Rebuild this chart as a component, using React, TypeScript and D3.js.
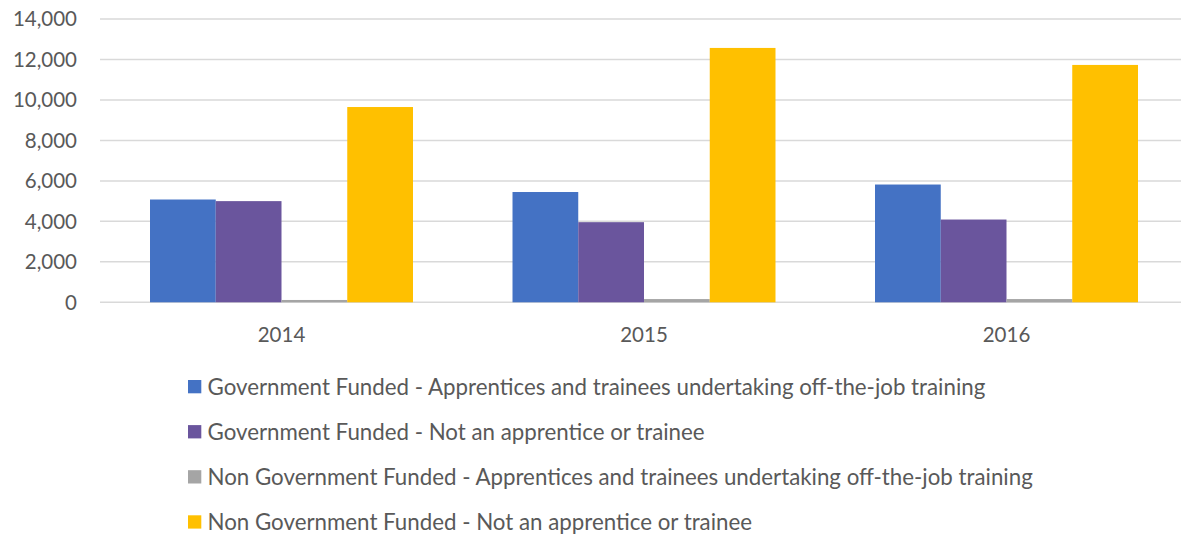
import React from "react";
import * as d3 from "d3";

const categories = ["2014", "2015", "2016"];
const seriesNames = [
  "Government Funded - Apprentices and trainees undertaking off-the-job training",
  "Government Funded - Not an apprentice or trainee",
  "Non Government Funded - Apprentices and trainees undertaking off-the-job training",
  "Non Government Funded - Not an apprentice or trainee",
];
const govApprentice = [5080, 5450, 5820];
const govNotApprentice = [5000, 3960, 4090];
const nonGovApprentice = [115, 160, 160];
const nonGovNotApprentice = [9650, 12570, 11730];
const yTicks = [0, 2000, 4000, 6000, 8000, 10000, 12000, 14000];
const colors = ["#4472C4", "#6A559D", "#A5A5A5", "#FFC000"];

const seriesValues = [govApprentice, govNotApprentice, nonGovApprentice, nonGovNotApprentice];

const W = 1181;
const H = 536;
const FONT = "Lato, 'Open Sans', sans-serif";
const TEXT = "#595959";

export default function App() {
  const y = d3.scaleLinear().domain([0, 14000]).range([302.3, 19]);
  const x = d3
    .scaleBand<string>()
    .domain(categories)
    .range([100.25, 1187.75])
    .paddingInner(0.2745)
    .paddingOuter(0.13725);
  const xs = d3
    .scaleBand<string>()
    .domain(seriesNames)
    .range([0, x.bandwidth()])
    .padding(0);
  const fmt = d3.format(",");

  return (
    <svg
      width={W}
      height={H}
      style={{ position: "absolute", left: 0, top: 0, background: "#fff" }}
    >
      <rect width={W} height={H} fill="#fff" />
      {yTicks.map((t) => (
        <g key={t}>
          <line x1={100} x2={W} y1={y(t)} y2={y(t)} stroke="#D9D9D9" strokeWidth={1.5} />
          <text
            x={77}
            y={y(t)}
            dy="0.36em"
            textAnchor="end"
            fontFamily={FONT}
            fontSize={20.5}
            fill={TEXT}
          >
            {fmt(t)}
          </text>
        </g>
      ))}
      {categories.map((c, ci) => (
        <g key={c} transform={`translate(${x(c)},0)`}>
          {seriesNames.map((s, si) => {
            const v = seriesValues[si][ci];
            return (
              <rect
                key={s}
                x={xs(s)}
                y={y(v)}
                width={xs.bandwidth()}
                height={y(0) - y(v)}
                fill={colors[si]}
              />
            );
          })}
          <text
            x={x.bandwidth() / 2}
            y={341.5}
            textAnchor="middle"
            fontFamily={FONT}
            fontSize={20.5}
            fill={TEXT}
          >
            {c}
          </text>
        </g>
      ))}
      {seriesNames.map((s, si) => {
        const cy = 386.7 + si * 45.1;
        return (
          <g key={s}>
            <rect x={188} y={cy - 6.7} width={13.3} height={13.3} fill={colors[si]} />
            <text
              x={207.5}
              y={cy}
              dy="0.36em"
              fontFamily={FONT}
              fontSize={22.3}
              fill={TEXT}
            >
              {s}
            </text>
          </g>
        );
      })}
    </svg>
  );
}
